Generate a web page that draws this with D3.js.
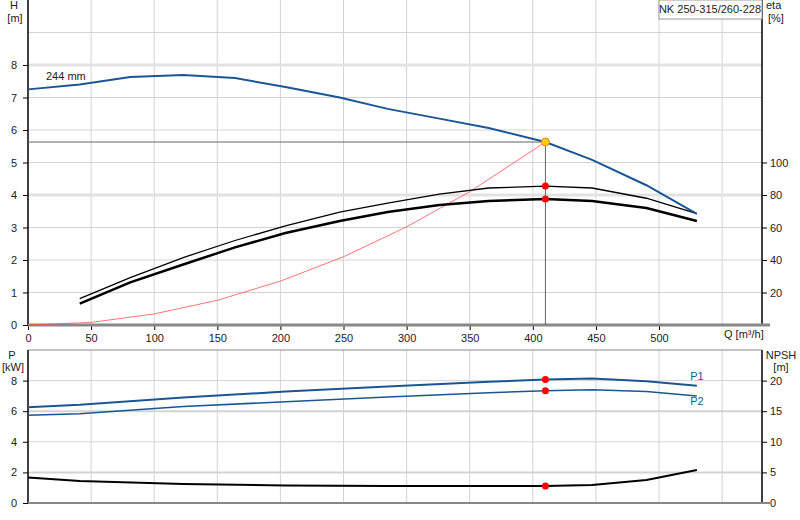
<!DOCTYPE html><html><head><meta charset="utf-8"><script src="https://cdn.jsdelivr.net/npm/d3@7"></script>
<style>body{margin:0;background:#fff}text{font-family:Arial,"Liberation Sans",sans-serif;font-size:11px}</style></head><body><svg id="c" width="800" height="520"></svg><script>
const qTicks=[0,50,100,150,200,250,300,350,400,450,500];
const hTicks=[0,1,2,3,4,5,6,7,8];
const etaTicks=[20,40,60,80,100];
const pTicks=[0,2,4,6,8];
const npshTicks=[0,5,10,15,20];
const qH=[0,41,81,123,164,204,247,285,326,365,410,447,490,530];
const hVals=[7.25,7.4,7.63,7.69,7.6,7.32,7.0,6.65,6.35,6.06,5.63,5.08,4.3,3.42];
const qE=[41,81,123,164,204,247,285,326,365,410,447,490,530];
const eta1=[16.2,29.2,41.5,52,61,69.5,75,80.6,84.3,85.5,84.3,78,68.5];
const eta2=[13.2,26.2,37.2,47.8,56.6,64,69.5,73.8,76.3,77.5,76.3,72,64];
const qSys=[0,50,100,150,200,250,300,350,410];
const hSys=[0,0.08,0.34,0.76,1.35,2.1,3.02,4.1,5.63];
const qP=[0,41,123,204,285,365,410,447,490,530];
const p1=[6.26,6.42,6.9,7.28,7.62,7.92,8.07,8.13,7.95,7.67];
const p2=[5.74,5.84,6.3,6.62,6.92,7.2,7.34,7.4,7.28,7.0];
const npsh=[4.18,3.6,3.1,2.87,2.79,2.78,2.79,2.95,3.77,5.4];
const duty={q:410,h:5.63,eta1:85.5,eta2:77.5,p1:8.07,p2:7.34,npsh:2.79};
const svg=d3.select("#c");
const x=d3.scaleLinear().domain([0,581.6]).range([28,762]);
const yH=d3.scaleLinear().domain([0,10]).range([325,0]);
const yE=d3.scaleLinear().domain([0,200]).range([325,0]);
const yP=d3.scaleLinear().domain([0,10]).range([503,350]);
const yN=d3.scaleLinear().domain([0,25]).range([503,350]);
const grid="#d3d3d3", blue="#1b5693";
[50,100,150,200,250,300,350,400,450,500,550].forEach(q=>{
 svg.append("line").attr("x1",x(q)).attr("x2",x(q)).attr("y1",0).attr("y2",325).attr("stroke",grid);
 svg.append("line").attr("x1",x(q)).attr("x2",x(q)).attr("y1",350).attr("y2",503).attr("stroke",grid);});
[1,2,3,4,5,6,7,8,9].forEach(h=>svg.append("line").attr("x1",28).attr("x2",762).attr("y1",yH(h)).attr("y2",yH(h)).attr("stroke",h==8||h==4?"#e2e2e2":grid).attr("stroke-width",h==8||h==4?3:1));
[2,4,6,8].forEach(p=>svg.append("line").attr("x1",28).attr("x2",762).attr("y1",yP(p)).attr("y2",yP(p)).attr("stroke",grid).attr("stroke-width",p==2||p==6?2:1));
svg.append("line").attr("x1",28).attr("x2",762).attr("y1",350).attr("y2",350).attr("stroke","#888");
const ax=(g,a)=>{g.call(a);g.select(".domain").remove();g.selectAll("text").attr("fill","#222").style("font-size","11px");};
ax(svg.append("g").attr("transform","translate(28,0)"),d3.axisLeft(yH).tickValues(hTicks).tickSize(5).tickPadding(6));
ax(svg.append("g").attr("transform","translate(762,0)"),d3.axisRight(yE).tickValues(etaTicks).tickSize(5).tickPadding(3));
ax(svg.append("g").attr("transform","translate(0,325)"),d3.axisBottom(x).tickValues(qTicks).tickSize(5).tickPadding(4));
ax(svg.append("g").attr("transform","translate(28,0)"),d3.axisLeft(yP).tickValues(pTicks).tickSize(5).tickPadding(6));
ax(svg.append("g").attr("transform","translate(762,0)"),d3.axisRight(yN).tickValues(npshTicks).tickSize(5).tickPadding(3));
svg.append("line").attr("x1",28).attr("x2",28).attr("y1",0).attr("y2",325).attr("stroke","#000").attr("stroke-width",1.5);
svg.append("line").attr("x1",762).attr("x2",762).attr("y1",0).attr("y2",325).attr("stroke","#000").attr("stroke-width",1.5);
svg.append("line").attr("x1",28).attr("x2",28).attr("y1",350).attr("y2",503).attr("stroke","#000").attr("stroke-width",1.5);
svg.append("line").attr("x1",762).attr("x2",762).attr("y1",350).attr("y2",503).attr("stroke","#000").attr("stroke-width",1.5);
svg.append("line").attr("x1",28).attr("x2",770).attr("y1",325).attr("y2",325).attr("stroke","#888").attr("stroke-width",3);
svg.append("line").attr("x1",28).attr("x2",770).attr("y1",503).attr("y2",503).attr("stroke","#888").attr("stroke-width",2);
const t=(s,xx,yy,a,c)=>svg.append("text").attr("x",xx).attr("y",yy).attr("text-anchor",a||"middle").attr("fill",c||"#222").text(s);
t("H",14,9);t("[m]",15,22);t("eta",766,9,"start");t("[%]",768,22,"start");
t("P",12,359);t("[kW]",13,371);t("NPSH",781,359);t("[m]",781,371);
t("Q [m³/h]",724,338,"start");t("244 mm",46,80,"start");
svg.append("rect").attr("x",659).attr("y",0).attr("width",103).attr("height",19).attr("fill","#fff").attr("stroke","#999");
t("NK 250-315/260-228",710,13);
svg.append("line").attr("x1",28).attr("x2",x(duty.q)).attr("y1",yH(duty.h)).attr("y2",yH(duty.h)).attr("stroke","#666");
svg.append("line").attr("x1",x(duty.q)).attr("x2",x(duty.q)).attr("y1",yH(duty.h)).attr("y2",325).attr("stroke","#666");
const line=(qs,vs,ys,c,w)=>svg.append("path").datum(qs.map((q,i)=>[q,vs[i]])).attr("d",d3.line().x(d=>x(d[0])).y(d=>ys(d[1]))).attr("fill","none").attr("stroke",c).attr("stroke-width",w);
line(qSys,hSys,yH,"#ff5050",0.8);
line(qE,eta1,yE,"#000",1.3);
line(qE,eta2,yE,"#000",2.5);
line(qH,hVals,yH,blue,2);
line(qP,p1,yP,blue,2);
line(qP,p2,yP,blue,1.5);
line(qP,npsh.map(v=>v/2.5),yP,"#000",2);
t("P1",697,380,"middle",blue);t("P2",697,405,"middle",blue);
const dot=(yy,f)=>svg.append("circle").attr("cx",x(duty.q)).attr("cy",yy).attr("r",3.5).attr("fill",f);
dot(yE(duty.eta1),"red");dot(yE(duty.eta2),"red");dot(yP(duty.p1),"red");dot(yP(duty.p2),"red");dot(yP(duty.npsh/2.5),"red");
svg.append("circle").attr("cx",x(duty.q)).attr("cy",yH(duty.h)).attr("r",4).attr("fill","#ffd000").attr("stroke","#f08030");
</script></body></html>
